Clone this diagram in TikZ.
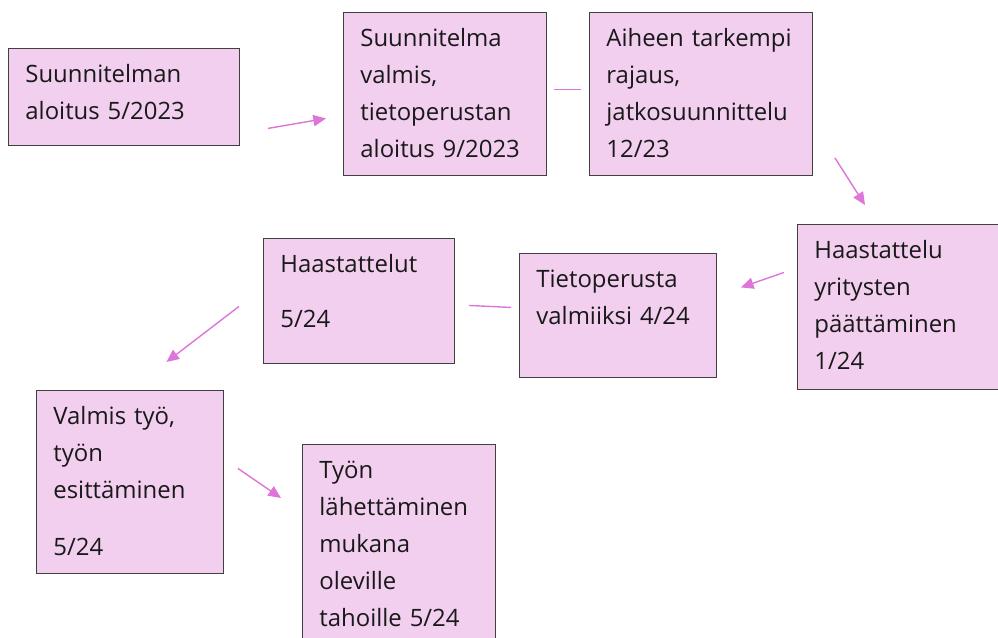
\documentclass[tikz,border=0pt]{standalone}
\usepackage{fontspec}
\setmainfont{Open Sans}
\usetikzlibrary{arrows.meta, calc}

\definecolor{cardfill}{RGB}{242,206,239}
\definecolor{cardline}{RGB}{64,64,64}
\definecolor{flowpink}{RGB}{221,118,216}

\tikzset{
  card/.style 2 args={draw=cardline, line width=0.6pt, fill=cardfill, anchor=north west,
    align=left, text width=#1, text height=0.85cm, text depth=#2,
    inner xsep=0.425cm, inner ysep=0pt, text=black!90,
    font=\fontsize{17pt}{26.3pt}\selectfont},
  flow/.style={draw=flowpink, line width=1pt},
  flowarrow/.style={flow, -{Triangle[length=9pt,width=8pt]}}
}

\begin{document}
\begin{tikzpicture}[x=0.025cm, y=-0.025cm]
    \useasboundingbox (0,0) rectangle (998,637);

    % Steps
    \node[card={4.925cm}{1.575cm}] (s1) at (8,48) {Suunnitelman\\aloitus 5/2023};
    \node[card={4.225cm}{3.225cm}] (s2) at (343,12) {Suunnitelma\\valmis,\\tietoperustan\\aloitus 9/2023};
    \node[card={4.725cm}{3.225cm}] (s3) at (589,12) {Aiheen tarkempi\\rajaus,\\jatkosuunnittelu\\12/23};
    \node[card={4.225cm}{3.275cm}] (s4) at (797,224) {Haastattelu\\yritysten\\päättäminen\\1/24};
    \node[card={4.075cm}{2.25cm}] (s5) at (519,253) {Tietoperusta\\valmiiksi 4/24};
    \node[card={3.925cm}{2.275cm}] (s6) at (263,238) {Haastattelut\\[0.45cm]5/24};
    \node[card={3.825cm}{3.725cm}] (s7) at (36,390) {Valmis työ,\\työn\\esittäminen\\[0.5cm]5/24};
    \node[card={3.975cm}{4.45cm}] (s8) at (302,444) {Työn\\lähettäminen\\mukana\\oleville\\tahoille 5/24};

    % Connectors
    \draw[flowarrow] ($(s1.east)+(28,31.5)$) -- ($(s2.west)+(-17,24.5)$);
    \draw[flow] ($(s2.east)+(7,-4.5)$) -- ($(s3.west)+(-8,-4.5)$);
    \draw[flowarrow] ($(s3.south east)+(22,-18)$) -- ($(s4.north west)+(68,-19)$);
    \draw[flowarrow] ($(s4.west)+(-13,-34.5)$) -- ($(s5.east)+(24,-28)$);
    \draw[flow] ($(s5.west)+(-8,-8)$) -- ($(s6.east)+(14,4.5)$);
    \draw[flowarrow] ($(s6.west)+(-24,5.5)$) -- ($(s7.north)+(36.5,-28)$);
    \draw[flowarrow] ($(s7.east)+(14,-13.5)$) -- ($(s8.north west)+(-21,54)$);
\end{tikzpicture}
\end{document}
